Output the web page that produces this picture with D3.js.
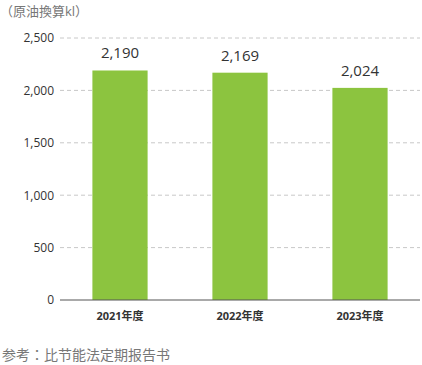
<!DOCTYPE html>
<html>
<head>
<meta charset="utf-8">
<script src="https://cdn.jsdelivr.net/npm/d3@7"></script>
<style>
  body { margin: 0; background: #fff; }
  svg { display: block; font-family: "Open Sans", "Noto Sans CJK JP", sans-serif; }
</style>
</head>
<body>
<div id="chart"></div>
<script>
// Chart data
const categories = ["2021年度", "2022年度", "2023年度"];
const values = [2190, 2169, 2024];
const tickValues = [0, 500, 1000, 1500, 2000, 2500];

const width = 422, height = 365;
const margin = { top: 38, right: 2, bottom: 65, left: 60 };

const svg = d3.select("#chart").append("svg")
  .attr("width", width)
  .attr("height", height);

const x = d3.scaleBand()
  .domain(categories)
  .range([margin.left, width - margin.right])
  .paddingInner(0.54)
  .paddingOuter(0.27);

const y = d3.scaleLinear()
  .domain([0, 2500])
  .range([height - margin.bottom, margin.top]);

// Dashed gridlines
svg.append("g")
  .selectAll("line")
  .data(tickValues.filter(d => d > 0))
  .join("line")
  .attr("x1", margin.left)
  .attr("x2", width - margin.right)
  .attr("y1", d => y(d))
  .attr("y2", d => y(d))
  .attr("stroke", "#c8c8c8")
  .attr("stroke-dasharray", "4,3");

// Y axis labels
const yAxis = svg.append("g")
  .attr("transform", `translate(${margin.left},0)`)
  .call(d3.axisLeft(y).tickValues(tickValues).tickSize(0).tickPadding(6).tickFormat(d3.format(",")));
yAxis.select(".domain").remove();
yAxis.selectAll("text")
  .attr("font-size", 12)
  .attr("fill", "#333")
  .attr("font-family", "Open Sans, sans-serif");

// Bars
svg.append("g")
  .selectAll("rect")
  .data(values)
  .join("rect")
  .attr("x", (d, i) => x(categories[i]))
  .attr("y", d => y(d))
  .attr("width", x.bandwidth())
  .attr("height", d => y(0) - y(d))
  .attr("fill", "#8cc43f");

// Value labels
svg.append("g")
  .selectAll("text")
  .data(values)
  .join("text")
  .attr("x", (d, i) => x(categories[i]) + x.bandwidth() / 2)
  .attr("y", d => y(d) - 12)
  .attr("text-anchor", "middle")
  .attr("font-size", 15)
  .attr("fill", "#333")
  .text(d => d3.format(",")(d));

// Baseline
svg.append("line")
  .attr("x1", margin.left)
  .attr("x2", width - margin.right)
  .attr("y1", y(0))
  .attr("y2", y(0))
  .attr("stroke", "#555");

// X axis labels
const xAxis = svg.append("g")
  .attr("transform", `translate(0,${y(0)})`)
  .call(d3.axisBottom(x).tickSize(0).tickPadding(12));
xAxis.select(".domain").remove();
xAxis.selectAll("text")
  .attr("font-size", 11)
  .attr("font-weight", "bold")
  .attr("fill", "#333")
  .attr("font-family", "Open Sans, Noto Sans CJK JP, sans-serif");

// Unit label
svg.append("text")
  .attr("x", 0)
  .attr("y", 16)
  .attr("font-size", 13)
  .attr("fill", "#777")
  .text("（原油換算kl）");

// Footnote
svg.append("text")
  .attr("x", 2)
  .attr("y", 360)
  .attr("font-size", 14)
  .attr("fill", "#777")
  .text("参考：比节能法定期报告书");
</script>
</body>
</html>
